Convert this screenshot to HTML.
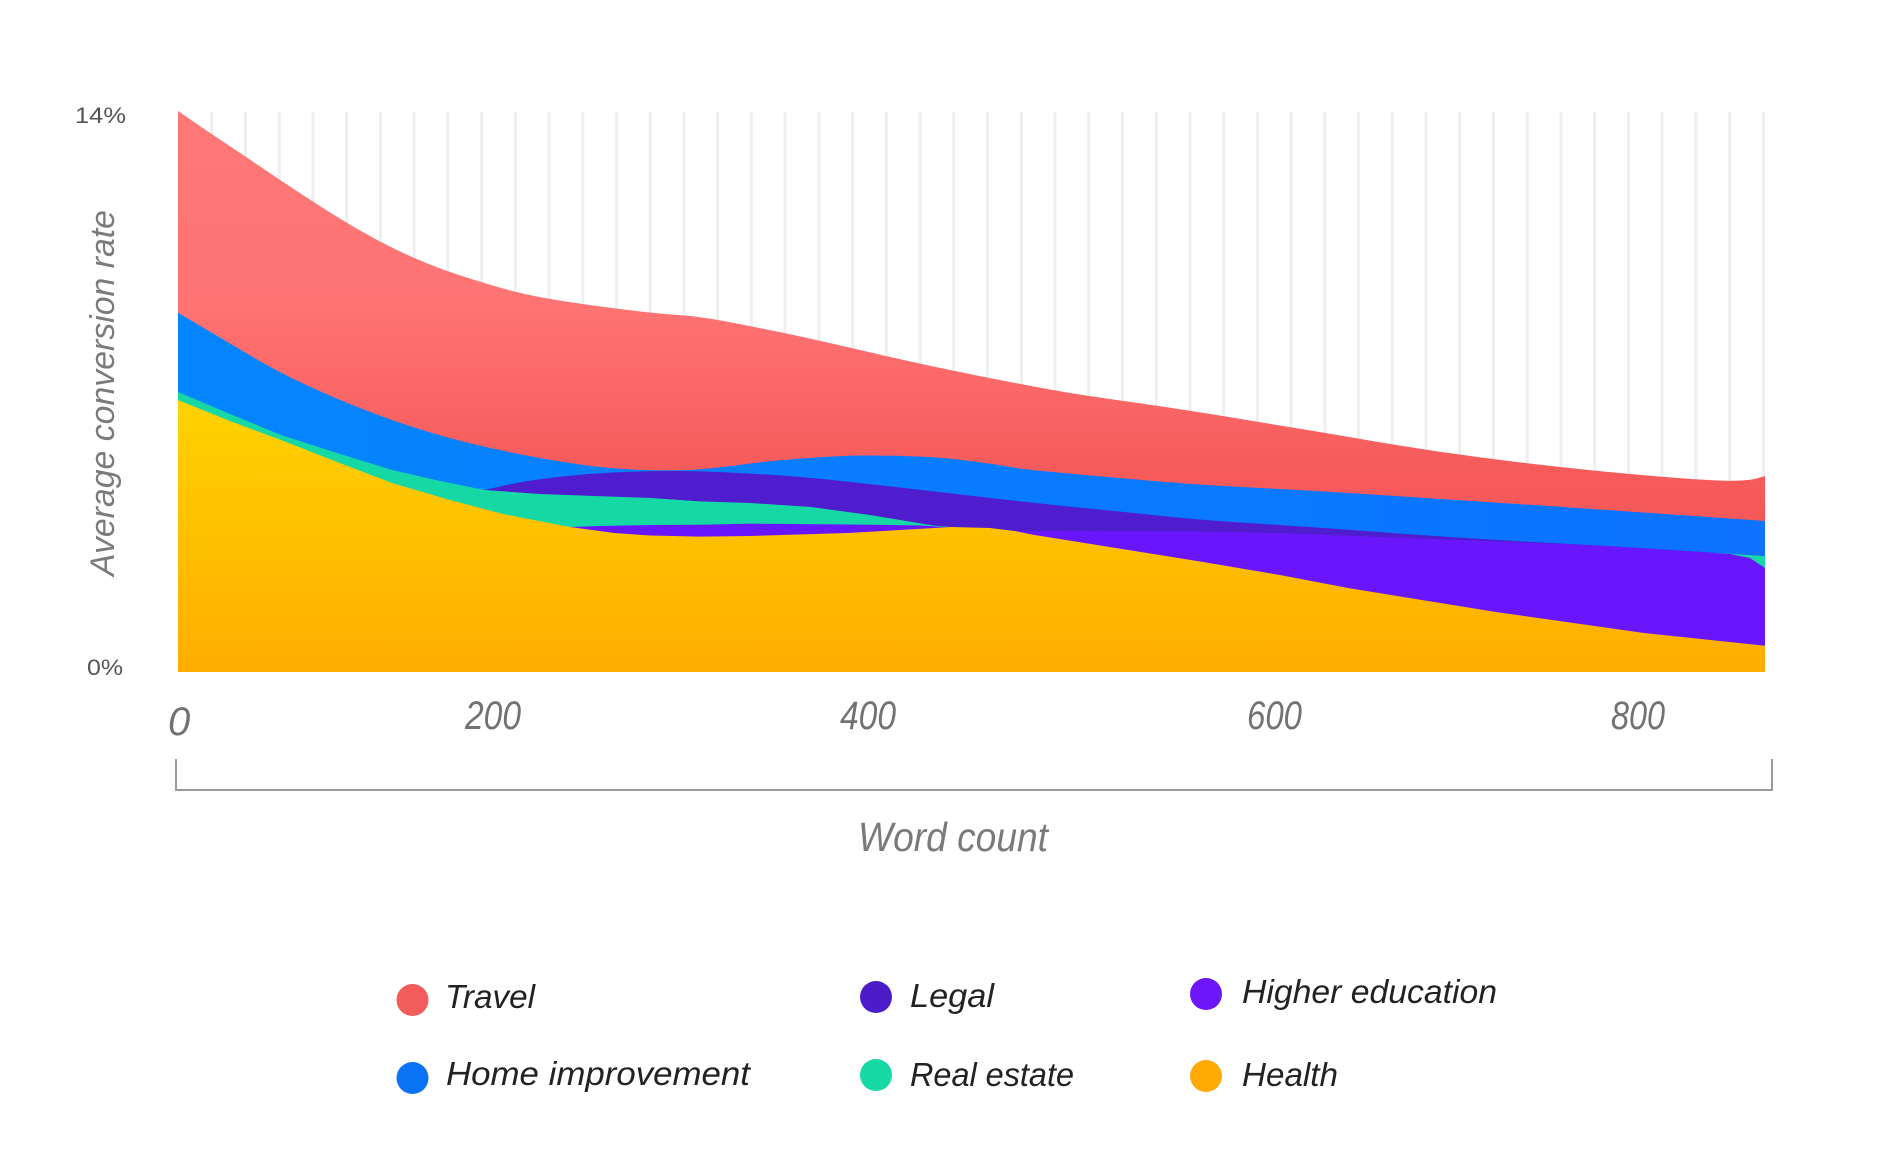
<!DOCTYPE html>
<html>
<head>
<meta charset="utf-8">
<style>
html,body{margin:0;padding:0;background:#fff;}
svg{display:block;}
text{font-family:"Liberation Sans",sans-serif;}
</style>
</head>
<body>
<svg width="1878" height="1158" viewBox="0 0 1878 1158" xmlns="http://www.w3.org/2000/svg">
<defs>
<linearGradient id="gRed" gradientUnits="userSpaceOnUse" x1="0" y1="112" x2="0" y2="672">
<stop offset="0" stop-color="#ff7878"/>
<stop offset="0.35" stop-color="#ff7373"/>
<stop offset="0.65" stop-color="#f65a5a"/>
<stop offset="1" stop-color="#f25252"/>
</linearGradient>
<linearGradient id="gBlue" gradientUnits="userSpaceOnUse" x1="178" y1="0" x2="1765" y2="0">
<stop offset="0" stop-color="#0585ff"/>
<stop offset="1" stop-color="#0c72ff"/>
</linearGradient>
<linearGradient id="gYel" gradientUnits="userSpaceOnUse" x1="0" y1="400" x2="0" y2="672">
<stop offset="0" stop-color="#ffd300"/>
<stop offset="1" stop-color="#ffad00"/>
</linearGradient>
</defs>
<rect width="1878" height="1158" fill="#fff"/>

<!-- gridlines -->
<g stroke="#efeff1" stroke-width="3">
<line x1="211.7" y1="112" x2="211.7" y2="672"/><line x1="245.5" y1="112" x2="245.5" y2="672"/><line x1="279.2" y1="112" x2="279.2" y2="672"/><line x1="312.9" y1="112" x2="312.9" y2="672"/><line x1="346.7" y1="112" x2="346.7" y2="672"/><line x1="380.4" y1="112" x2="380.4" y2="672"/><line x1="414.1" y1="112" x2="414.1" y2="672"/><line x1="447.8" y1="112" x2="447.8" y2="672"/><line x1="481.6" y1="112" x2="481.6" y2="672"/><line x1="515.3" y1="112" x2="515.3" y2="672"/><line x1="549.0" y1="112" x2="549.0" y2="672"/><line x1="582.8" y1="112" x2="582.8" y2="672"/><line x1="616.5" y1="112" x2="616.5" y2="672"/><line x1="650.2" y1="112" x2="650.2" y2="672"/><line x1="684.0" y1="112" x2="684.0" y2="672"/><line x1="717.7" y1="112" x2="717.7" y2="672"/><line x1="751.4" y1="112" x2="751.4" y2="672"/><line x1="785.1" y1="112" x2="785.1" y2="672"/><line x1="818.9" y1="112" x2="818.9" y2="672"/><line x1="852.6" y1="112" x2="852.6" y2="672"/><line x1="886.3" y1="112" x2="886.3" y2="672"/><line x1="920.1" y1="112" x2="920.1" y2="672"/><line x1="953.8" y1="112" x2="953.8" y2="672"/><line x1="987.5" y1="112" x2="987.5" y2="672"/><line x1="1021.3" y1="112" x2="1021.3" y2="672"/><line x1="1055.0" y1="112" x2="1055.0" y2="672"/><line x1="1088.7" y1="112" x2="1088.7" y2="672"/><line x1="1122.4" y1="112" x2="1122.4" y2="672"/><line x1="1156.2" y1="112" x2="1156.2" y2="672"/><line x1="1189.9" y1="112" x2="1189.9" y2="672"/><line x1="1223.6" y1="112" x2="1223.6" y2="672"/><line x1="1257.4" y1="112" x2="1257.4" y2="672"/><line x1="1291.1" y1="112" x2="1291.1" y2="672"/><line x1="1324.8" y1="112" x2="1324.8" y2="672"/><line x1="1358.6" y1="112" x2="1358.6" y2="672"/><line x1="1392.3" y1="112" x2="1392.3" y2="672"/><line x1="1426.0" y1="112" x2="1426.0" y2="672"/><line x1="1459.7" y1="112" x2="1459.7" y2="672"/><line x1="1493.5" y1="112" x2="1493.5" y2="672"/><line x1="1527.2" y1="112" x2="1527.2" y2="672"/><line x1="1560.9" y1="112" x2="1560.9" y2="672"/><line x1="1594.7" y1="112" x2="1594.7" y2="672"/><line x1="1628.4" y1="112" x2="1628.4" y2="672"/><line x1="1662.1" y1="112" x2="1662.1" y2="672"/><line x1="1695.9" y1="112" x2="1695.9" y2="672"/><line x1="1729.6" y1="112" x2="1729.6" y2="672"/><line x1="1763.3" y1="112" x2="1763.3" y2="672"/>
</g>

<!-- Travel -->
<path fill="url(#gRed)" d="M178,672 L178,111 L194,122 Q210,133 227,144.25 Q244,155.5 262,167.75 Q280,180 299,192.5 Q318,205 336.5,216.5 Q355,228 373.5,238 Q392,248 411,256.5 Q430,265 448,271.3 Q466,277.6 493.5,285.8 Q521,294 549,298.75 Q577,303.5 614,308.25 Q651,313 675.5,314.7 Q700,316.4 725,321.2 Q750,326 780.5,332.3 Q811,338.6 866.5,351.55 Q922,364.5 977.5,375.6 Q1033,386.7 1060.5,391.35 Q1088,396 1134.5,402.5 Q1181,409 1230.5,417.3 Q1280,425.6 1295.5,428 Q1311,430.5 1366.5,440 Q1422,449.6 1477.5,457 Q1533,464.4 1588.5,469.95 Q1644,475.5 1681,478.25 Q1718,481 1734,480.75 Q1750,480.5 1757.5,478.25 L1765,476 L1765,672 Z"/>
<!-- Home improvement -->
<path fill="url(#gBlue)" d="M178,672 L178,312.7 L201.5,326.6 Q225,340.5 253,357.15 Q281,373.8 318,390.4 Q355,407 392,420 Q429,433 466,442.25 Q503,451.5 540,457.95 Q577,464.4 595.5,466.45 Q614,468.5 632.5,469.5 Q651,470.5 675.5,470.25 Q700,470 725,466.75 Q750,463.5 762,462.1 Q774,460.7 797,458.85 Q820,457 843,456 Q866,455 903,456 Q940,457 968,460.7 Q996,464.4 1010.5,466.95 Q1025,469.5 1066,473.25 Q1107,477 1153.5,481 Q1200,485 1255.5,487.75 Q1311,490.5 1366.5,494.1 Q1422,497.7 1477.5,501.35 Q1533,505 1588.5,508.75 Q1644,512.5 1765,521 L1765,672 Z"/>
<!-- Legal -->
<path fill="#4f1dcd" d="M484.5,672 L484.5,490 L502.25,486 Q520,482 540,479.25 Q560,476.5 580,474.75 Q600,473 625.5,472 Q651,471 675.5,471 Q700,471 725,472.25 Q750,473.5 780.5,475.45 Q811,477.4 866.5,483.7 Q922,490 977.5,496.5 Q1033,503 1088.5,508.5 Q1144,514 1172,517 Q1200,520 1255.5,523.5 Q1311,527 1385,532.5 Q1459,538 1533,542 Q1607,546 1662.5,549.5 Q1718,553 1741.5,554.5 L1765,556 L1765,672 Z"/>
<!-- Real estate -->
<path fill="#16d8a5" d="M178,672 L178,392 L230,414 L281,435 L337,453 L392,470 L440,481 L484.5,490 L540,494 L651,498 L700,501.4 L750,503 L811,507 L870,515 L933,525.5 L960,528 L1014,532 L1025,532 L1200,532.5 L1280,534 L1459,541 L1607,547 L1700,553 L1718,553 L1765,556 L1765,672 Z"/>
<!-- Higher education -->
<path fill="#6a16fd" d="M570,672 L570,527 L600,526 L651,525 L700,524.7 L750,523.6 L850,524.5 L922,525.5 L951,527.5 L990,528.5 L1014,531 L1025,531 L1200,531.5 L1280,533 L1459,540 L1607,546 L1700,552 L1730,554 L1750,558 L1765,568 L1765,672 Z"/>
<!-- Health -->
<path fill="url(#gYel)" d="M178,672 L178,400 L230,421 L281,440 L337,462 L392,483 L450,500 L503,514 L570,527 L614,533 L650,535.5 L700,536.6 L750,536 L848,533 L900,530 L951.6,527 L990,528 L1014.5,531 L1033,534.7 L1144,552.5 L1200,561.5 L1280,575 L1348,588 L1496,612 L1644,633 L1765,645.7 L1765,672 Z"/>

<!-- y axis labels -->
<text x="75" y="123" font-size="22" fill="#555" textLength="51" lengthAdjust="spacingAndGlyphs">14%</text>
<text x="87" y="675" font-size="22" fill="#555" textLength="36" lengthAdjust="spacingAndGlyphs">0%</text>
<text transform="translate(114,393) rotate(-90)" text-anchor="middle" font-size="34" font-style="italic" fill="#7b7b7b" textLength="366" lengthAdjust="spacingAndGlyphs">Average conversion rate</text>

<!-- x axis labels -->
<g font-size="40" font-style="italic" fill="#727272">
<text x="168" y="735">0</text>
<text x="465" y="729" textLength="56" lengthAdjust="spacingAndGlyphs">200</text>
<text x="840" y="729" textLength="56" lengthAdjust="spacingAndGlyphs">400</text>
<text x="1247" y="729" textLength="55" lengthAdjust="spacingAndGlyphs">600</text>
<text x="1611" y="729" textLength="54" lengthAdjust="spacingAndGlyphs">800</text>
</g>

<path d="M176,759 L176,790 L1772,790 L1772,759" fill="none" stroke="#9a9a9a" stroke-width="2"/>
<text x="858" y="851" font-size="41" font-style="italic" fill="#7a7a7a" textLength="190" lengthAdjust="spacingAndGlyphs">Word count</text>

<!-- legend -->
<circle cx="412.5" cy="1000" r="16" fill="#f45b5b"/>
<circle cx="412.5" cy="1078" r="16" fill="#0a72f5"/>
<circle cx="876" cy="997" r="16" fill="#4c1cc8"/>
<circle cx="876" cy="1075" r="16" fill="#16d9a6"/>
<circle cx="1206" cy="994" r="16" fill="#6b17fa"/>
<circle cx="1206" cy="1076" r="16" fill="#ffaa05"/>
<g font-size="33" font-style="italic" fill="#222">
<text x="445" y="1008" textLength="90" lengthAdjust="spacingAndGlyphs">Travel</text>
<text x="446" y="1085" textLength="304" lengthAdjust="spacingAndGlyphs">Home improvement</text>
<text x="910" y="1007" textLength="84" lengthAdjust="spacingAndGlyphs">Legal</text>
<text x="910" y="1086" textLength="164" lengthAdjust="spacingAndGlyphs">Real estate</text>
<text x="1242" y="1003" textLength="255" lengthAdjust="spacingAndGlyphs">Higher education</text>
<text x="1242" y="1086" textLength="96" lengthAdjust="spacingAndGlyphs">Health</text>
</g>
</svg>
</body>
</html>
